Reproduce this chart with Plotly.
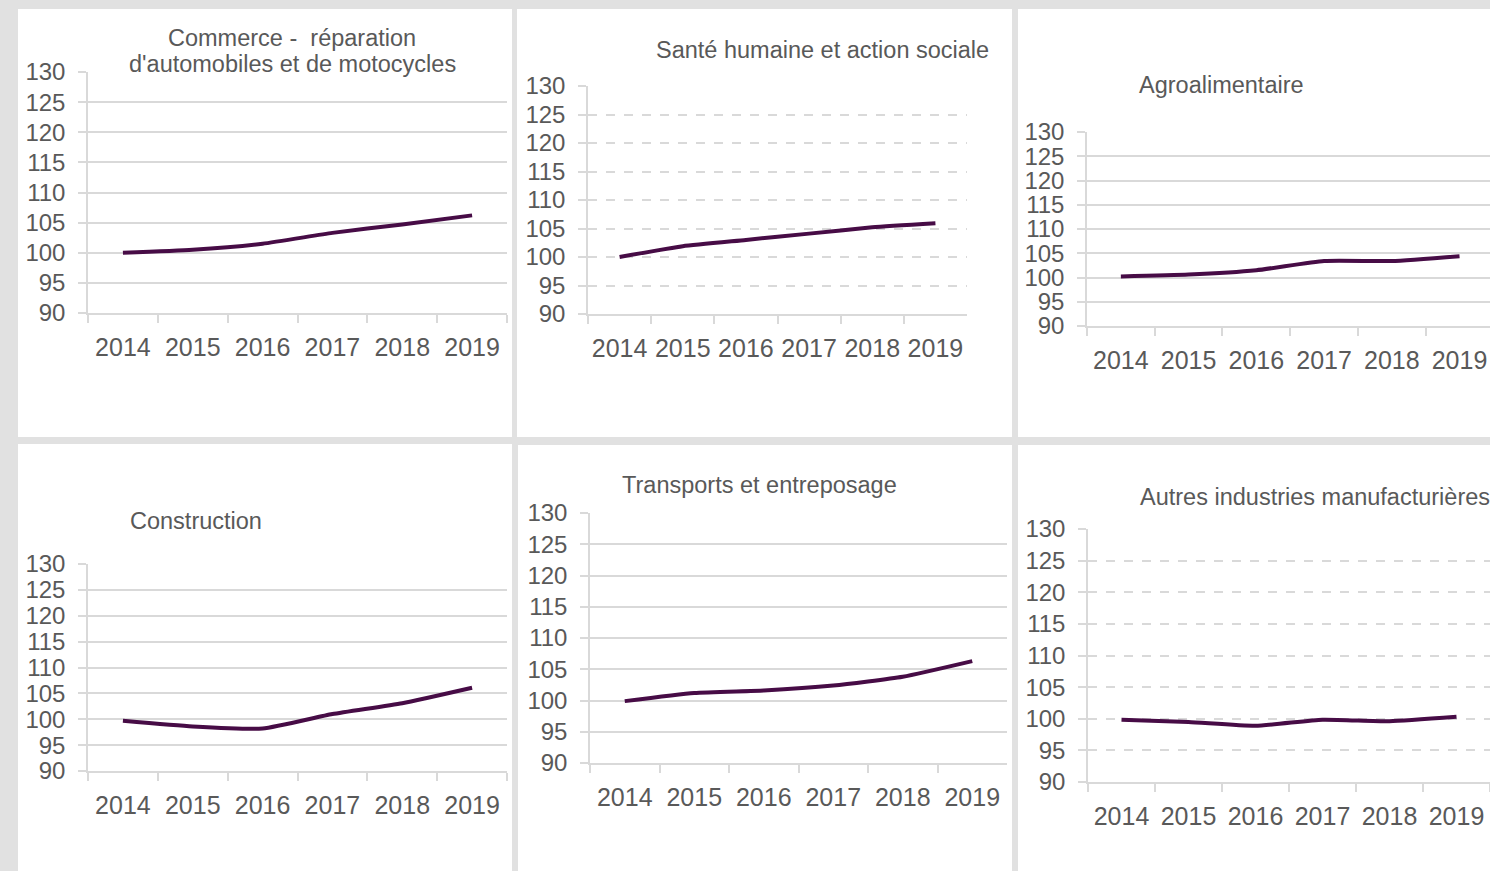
import plotly.graph_objects as go

W, H = 1490, 871

years = ["2014", "2015", "2016", "2017", "2018", "2019"]
y_ticks = [90, 95, 100, 105, 110, 115, 120, 125, 130]

titles = [
    "Commerce -\u00a0 réparation<br>d'automobiles et de motocycles",
    "Santé humaine et action sociale",
    "Agroalimentaire",
    "Construction",
    "Transports et entreposage",
    "Autres industries manufacturières",
]

commerce = [100.0, 100.5, 101.5, 103.3, 104.7, 106.2]
sante = [100.0, 101.9, 103.0, 104.1, 105.2, 105.9]
agro = [100.2, 100.6, 101.5, 103.4, 103.4, 104.4]
construction = [99.7, 98.6, 98.2, 101.0, 103.1, 106.1]
transports = [99.9, 101.2, 101.6, 102.4, 103.8, 106.3]
autres = [99.85, 99.5, 98.9, 99.85, 99.6, 100.3]
series = [commerce, sante, agro, construction, transports, autres]

# layout geometry (pixels)
panels = [  # white card x0, x1, y0, y1
    (18, 512, 9, 437), (517, 1012, 9, 437), (1018, 1490, 9, 437),
    (18, 512, 444, 871), (518, 1012, 445, 871), (1018, 1490, 445, 871),
]
plots = [  # plot area x0, x1, ytop, ybottom, x range end
    (88, 507, 72, 313, 5.5), (588, 967, 86, 314, 5.5), (1087, 1490, 132, 326, 5.45),
    (88, 507, 564, 771, 5.5), (590, 1007, 513, 763, 5.5), (1088, 1490, 529, 782, 5.5),
]
title_pos = [(292, 51), (823, 50), (1221, 85), (196, 521), (759, 485), (1315, 497)]
dashed = [False, True, False, False, False, True]

GRID = "#d9d9d9"
TXT = "#595959"
LINE = "#470c46"
FONT = "Liberation Sans, Arial, sans-serif"
LINE_GAP = 26

fig = go.Figure()
shapes = []
annotations = []
layout_axes = {}

for i in range(6):
    n = i + 1
    xa = "x" if n == 1 else f"x{n}"
    ya = "y" if n == 1 else f"y{n}"
    fig.add_trace(go.Scatter(
        x=years, y=series[i], mode="lines",
        line=dict(color=LINE, width=4, shape="spline", smoothing=0.5),
        xaxis=xa, yaxis=ya, showlegend=False, hoverinfo="x+y",
    ))
    px0, px1, ptop, pbot, xend = plots[i]
    layout_axes[f"xaxis{n}" if n > 1 else "xaxis"] = dict(
        domain=[px0 / W, px1 / W], anchor=ya, type="category", automargin=False,
        range=[-0.5, xend], showgrid=False, zeroline=False,
        showline=True, linecolor=GRID, linewidth=1.5,
        ticks="outside", ticklen=8, tickcolor=GRID, tickwidth=1.5,
        tickson="boundaries", ticklabelstandoff=11, tickangle=0,
        tickfont=dict(size=25, color=TXT, family=FONT), fixedrange=True,
    )
    layout_axes[f"yaxis{n}" if n > 1 else "yaxis"] = dict(
        domain=[1 - pbot / H, 1 - ptop / H], anchor=xa, automargin=False,
        range=[90, 130], tickvals=y_ticks, showgrid=True,
        gridcolor=GRID, gridwidth=1.5,
        griddash="dash" if dashed[i] else "solid",
        zeroline=False, showline=True, linecolor=GRID, linewidth=1.5,
        ticks="outside", ticklen=8, tickcolor=GRID, tickwidth=1.5,
        ticklabelstandoff=8,
        tickfont=dict(size=24, color=TXT, family=FONT), fixedrange=True,
    )
    x0, x1, y0, y1 = panels[i]
    shapes.append(dict(type="rect", xref="paper", yref="paper",
                       x0=x0 / W, x1=x1 / W, y0=1 - y1 / H, y1=1 - y0 / H,
                       fillcolor="white", line=dict(width=0), layer="below"))
    cx, cy = title_pos[i]
    lines = titles[i].split("<br>")
    start = cy - LINE_GAP * (len(lines) - 1) / 2
    for k, txt in enumerate(lines):
        annotations.append(dict(text=txt, xref="paper", yref="paper",
                                x=cx / W, y=1 - (start + k * LINE_GAP) / H,
                                xanchor="center", yanchor="middle",
                                showarrow=False,
                                font=dict(size=23.5, color=TXT, family=FONT)))

fig.update_layout(
    width=W, height=H, margin=dict(l=0, r=0, t=0, b=0, autoexpand=False),
    paper_bgcolor="#e1e1e1", plot_bgcolor="rgba(0,0,0,0)",
    shapes=shapes, annotations=annotations, **layout_axes,
)

post = ("document.documentElement.style.margin='0';"
        "document.documentElement.style.overflow='hidden';"
        "document.body.style.margin='0';"
        "document.body.style.padding='0';"
        "document.body.style.overflow='hidden';")

fig.write_html("out.html", config={"displayModeBar": False, "responsive": False},
               post_script=post)
